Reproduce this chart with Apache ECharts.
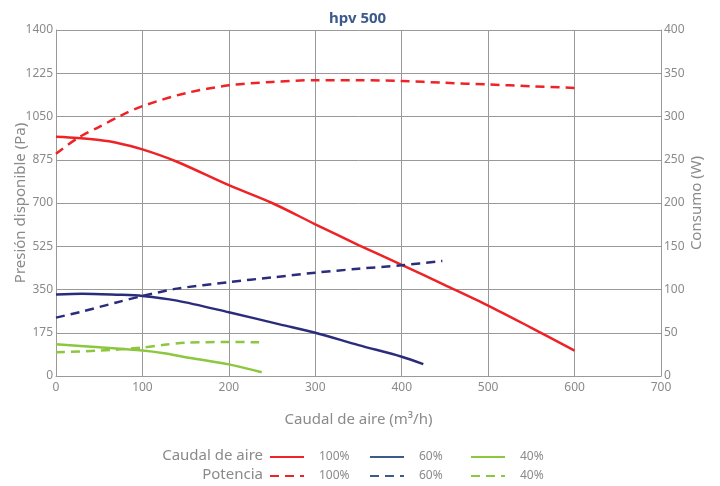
<!DOCTYPE html>
<html>
<head>
<meta charset="utf-8">
<script src="https://cdn.jsdelivr.net/npm/echarts@6/dist/echarts.min.js"></script>
<style>
html,body{margin:0;padding:0;background:#fff;}
#chart{width:720px;height:486px;}
</style>
</head>
<body>
<div id="chart"></div>
<script>
// Presión disponible (Pa) vs Caudal de aire (m3/h)
const press100 = [[0,968],[25,963],[50,955],[70,944],[100,917],[140,867],[200,772],[250,700],[300,614],[350,530],[400,450],[450,368],[500,285],[550,195],[600,103]];
const press60  = [[0,330],[30,333],[70,329],[100,324],[140,305],[200,258],[260,208],[300,175],[350,125],[400,78],[425,48]];
const press40  = [[0,128],[50,116],[100,103],[125,92],[150,76],[200,47],[238,15]];
// Consumo (W) vs Caudal de aire
const power100 = [[0,257],[25,275],[50,288],[75,301],[100,312],[150,327],[200,336],[250,340],[300,342],[350,342],[400,341],[450,339],[500,337],[550,335],[600,333]];
const power60  = [[0,67.5],[30,74.5],[70,85],[100,92.5],[140,101],[200,108.5],[250,114],[300,119.4],[350,124],[400,128],[447,133]];
const power40  = [[0,27.4],[50,29.3],[100,32.8],[125,36],[150,38.5],[200,39.3],[235,39]];

const levels = ['100%','60%','40%'];
const colors = ['#ee2327','#2b2c7c','#8dc63f'];
const legendColors = ['#ee2327','#3d5a8c','#8dc63f'];
const pressData = [press100, press60, press40];
const powerData = [power100, power60, power40];

const FONT = '"Noto Sans", "Open Sans", sans-serif';
const GREY = '#8a8a8a';

const series = [];
levels.forEach((lv, i) => {
  series.push({
    name: 'Caudal de aire ' + lv, type: 'line', yAxisIndex: 0,
    data: pressData[i], showSymbol: false, symbol: 'none', smooth: 0.3,
    lineStyle: {color: colors[i], width: 2.5}, itemStyle: {color: colors[i]}
  });
});
levels.forEach((lv, i) => {
  series.push({
    name: 'Potencia ' + lv, type: 'line', yAxisIndex: 1,
    data: powerData[i], showSymbol: false, symbol: 'none', smooth: 0.3,
    lineStyle: {color: colors[i], width: 2.5, type: [9, 6]}, itemStyle: {color: colors[i]}
  });
});

const legendLefts = [269, 369, 470];
const legends = levels.map((lv, i) => ({
  left: legendLefts[i], top: 451, orient: 'vertical', padding: 0,
  itemWidth: 34, itemHeight: 12, itemGap: 7,
  itemStyle: {opacity: 0},
  formatter: n => n.split(' ').pop(),
  textStyle: {color: GREY, fontSize: 12, fontFamily: FONT, padding: [0, 0, 0, 10]},
  selectedMode: false,
  data: [
    {name: 'Caudal de aire ' + lv, lineStyle: {color: legendColors[i]}},
    {name: 'Potencia ' + lv, lineStyle: {color: legendColors[i]}}
  ]
}));

const axisNameStyle = {color: GREY, fontSize: 15, fontFamily: FONT};

const chart = echarts.init(document.getElementById('chart'));
chart.setOption({
  animation: false,
  textStyle: {fontFamily: FONT},
  title: {text: 'hpv 500', left: 324, top: 6,
    textStyle: {color: '#3d5a8c', fontSize: 15, fontWeight: 'bold', fontFamily: FONT}},
  grid: {left: 56, right: 59, top: 30, bottom: 110, containLabel: false, outerBoundsMode: 'none'},
  legend: legends,
  graphic: [
    {type: 'text', right: 720 - 263, top: 448, style: {text: 'Caudal de aire', fill: GREY, font: '15px ' + FONT}},
    {type: 'text', right: 720 - 263, top: 467, style: {text: 'Potencia', fill: GREY, font: '15px ' + FONT}}
  ],
  xAxis: {
    type: 'value', min: 0, max: 700, interval: 100,
    name: 'Caudal de aire (m³/h)', nameLocation: 'middle', nameGap: 36, nameMoveOverlap: false,
    nameTextStyle: axisNameStyle,
    axisLine: {lineStyle: {color: '#999'}}, axisTick: {show: false},
    axisLabel: {color: GREY, fontSize: 12, margin: 6, formatter: v => String(v)},
    splitLine: {lineStyle: {color: '#999', width: 1}}
  },
  yAxis: [
    {
      type: 'value', min: 0, max: 1400, interval: 175,
      name: 'Presión disponible (Pa)', nameLocation: 'middle', nameGap: 28, nameMoveOverlap: false,
      nameTextStyle: axisNameStyle,
      axisLine: {show: true, lineStyle: {color: '#999'}}, axisTick: {show: false},
      axisLabel: {color: GREY, fontSize: 12, margin: 3, formatter: v => String(v)},
      splitLine: {lineStyle: {color: '#999', width: 1}}
    },
    {
      type: 'value', min: 0, max: 400, interval: 50, position: 'right',
      name: 'Consumo (W)', nameLocation: 'middle', nameGap: 28, nameMoveOverlap: false,
      nameTextStyle: axisNameStyle,
      axisLine: {show: true, lineStyle: {color: '#999'}}, axisTick: {show: false},
      axisLabel: {color: GREY, fontSize: 12, margin: 3, formatter: v => String(v)},
      splitLine: {show: false}
    }
  ],
  series: series
});
</script>
</body>
</html>
